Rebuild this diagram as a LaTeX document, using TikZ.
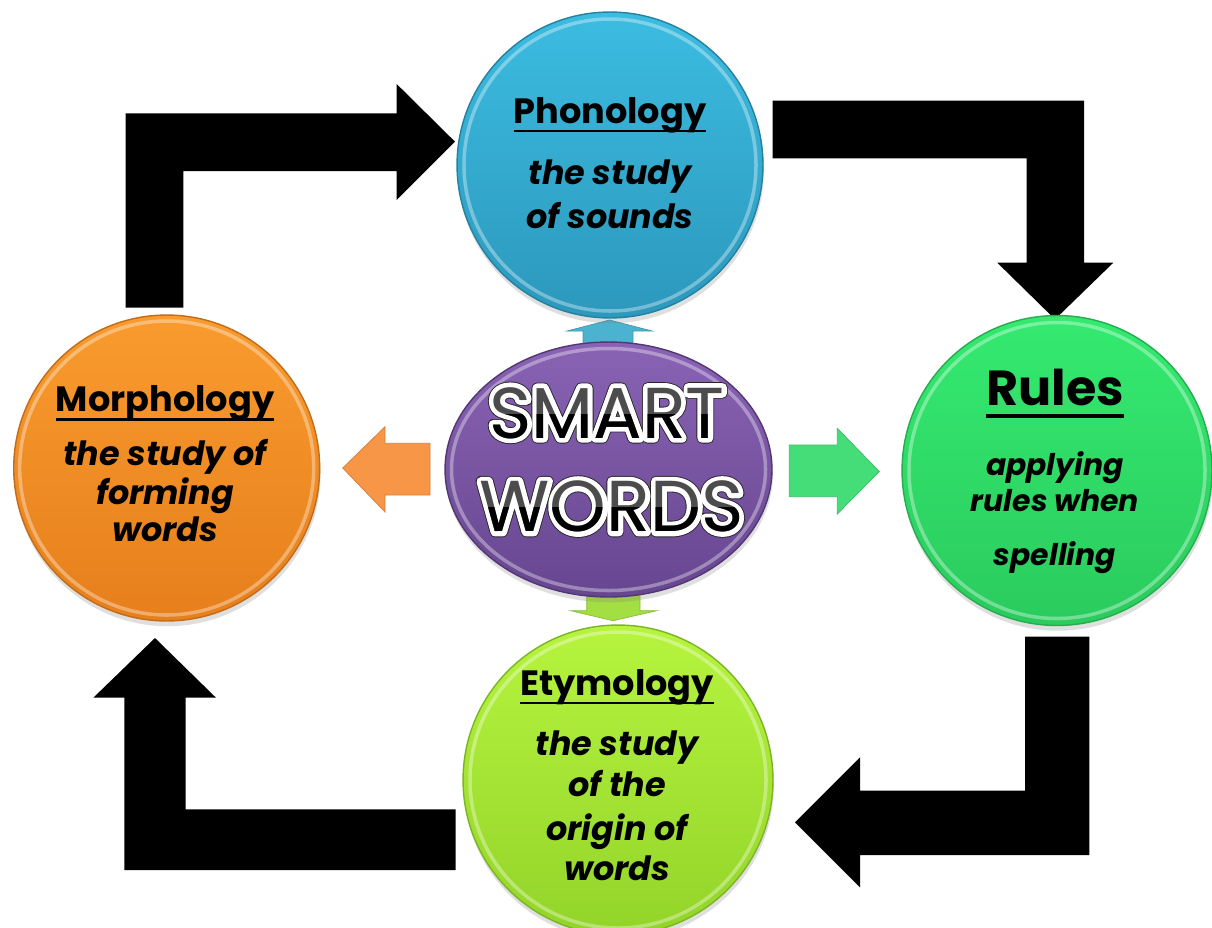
\documentclass[tikz,border=0pt]{standalone}
\usepackage{fontspec}
\setmainfont{Poppins}
\newfontfamily\smartwhite[FakeBold=13]{Poppins}
\newfontfamily\smartdark[FakeBold=15.5]{Poppins}
\newcommand{\roundjoin}{\special{pdf:code 1 j 1 J}}
\usetikzlibrary{shapes.geometric,shadows}
\definecolor{phonTop}{HTML}{3CBCE1}
\definecolor{phonBot}{HTML}{2C98BC}
\definecolor{rulesTop}{HTML}{34EA70}
\definecolor{rulesBot}{HTML}{2BCB5E}
\definecolor{etyTop}{HTML}{B6F43E}
\definecolor{etyBot}{HTML}{93D42A}
\definecolor{morTop}{HTML}{F99B2E}
\definecolor{morBot}{HTML}{E67F1C}
\definecolor{smTop}{HTML}{8A63B4}
\definecolor{smBot}{HTML}{674690}
\definecolor{arBlue}{HTML}{4BB3D0}
\definecolor{arOrange}{HTML}{F79646}
\definecolor{arGreen}{HTML}{44DD77}
\definecolor{arLime}{HTML}{A3DE42}
\newcommand{\ulin}[1]{\setbox0\hbox{#1}\rlap{\rule[-0.26em]{\wd0}{0.07em}}\box0}
\begin{document}
\begin{tikzpicture}[x=0.02cm,y=-0.02cm,
  blockarrow/.style={fill=black},
  smallarrow/.style={fill=#1, draw=#1!85!black, line width=0.4pt},
  bubble/.style={circle, inner sep=0pt, draw=#1, line width=0.8pt,
    drop shadow={opacity=0.25, shadow xshift=0.5pt, shadow yshift=-3pt}},
  rim/.style={draw=white, opacity=0.35, line width=2pt},
  head/.style={anchor=base, font=\bfseries\fontsize{20}{22}\selectfont},
  desc/.style={anchor=base, font=\bfseries\itshape\fontsize{19}{22}\selectfont},
  smart/.style={anchor=base, font=\fontsize{41}{41}\selectfont}]
\useasboundingbox (0,0) rectangle (1212,927);
\clip (0,0) rectangle (1212,927);

% big black block arrows
\fill[blockarrow] (125.7,307.7) -- (125.7,113.3) -- (396.7,113.3) -- (396.7,84) -- (455,141.7)
  -- (396.7,200) -- (396.7,171) -- (183.3,171) -- (183.3,307.7) -- cycle;
\fill[blockarrow] (772.7,100.7) -- (1084,100.7) -- (1084,262.7) -- (1113.3,262.7) -- (1055,319.3)
  -- (997.3,262.7) -- (1026.7,262.7) -- (1026.7,158.3) -- (772.7,158.3) -- cycle;
\fill[blockarrow] (1025,636.7) -- (1089.3,636.7) -- (1089.3,855) -- (860,855) -- (860,887.3)
  -- (795,822.3) -- (860,757.3) -- (860,790.7) -- (1025,790.7) -- cycle;
\fill[blockarrow] (455.7,809.3) -- (455.7,870) -- (124.3,870) -- (124.3,697.7) -- (93.3,697.7)
  -- (155,638) -- (216,697.7) -- (185.7,697.7) -- (185.7,809.3) -- cycle;

% small coloured arrows
\draw[smallarrow=arBlue] (583,345) -- (583,331) -- (567,331) -- (609.5,320) -- (652,331) -- (633,331) -- (633,345) -- cycle;
\draw[smallarrow=arLime] (586.7,594) -- (586.7,610.7) -- (570.7,610.7) -- (613,620.7) -- (656.7,610.7) -- (640,610.7) -- (640,594) -- cycle;
\draw[smallarrow=arOrange] (430,443.3) -- (385,443.3) -- (385,426.7) -- (342.7,468) -- (385,512) -- (385,495) -- (430,495) -- cycle;
\draw[smallarrow=arGreen] (789.3,445) -- (837.3,445) -- (837.3,428.3) -- (879.3,471.5) -- (837.3,514) -- (837.3,496.7) -- (789.3,496.7) -- cycle;

% circles
\node[bubble=phonBot!85!black, minimum size=6.12cm, top color=phonTop, bottom color=phonBot] (phon) at (610,165) {};
\node[bubble=rulesBot!85!black, minimum size=6.2cm, top color=rulesTop, bottom color=rulesBot] (rules) at (1057,470.5) {};
\node[bubble=etyBot!85!black, minimum size=6.2cm, top color=etyTop, bottom color=etyBot] (ety) at (618,780) {};
\node[bubble=morBot!85!black, minimum size=6.12cm, top color=morTop, bottom color=morBot] (mor) at (166.7,468) {};
\node[ellipse, inner sep=0pt, draw=smBot!80!black, line width=0.8pt, minimum width=6.54cm, minimum height=5.1cm,
  top color=smTop, bottom color=smBot,
  drop shadow={opacity=0.25, shadow xshift=0.5pt, shadow yshift=-3pt}] (smart) at (608.5,469.5) {};

% inner rims
\draw[rim] (phon.center) circle[radius=146];
\draw[rim] (rules.center) circle[radius=148];
\draw[rim] (ety.center) circle[radius=148];
\draw[rim] (mor.center) circle[radius=147];
\draw[rim] (smart.center) ellipse[x radius=157, y radius=121];

% Phonology
\node[head] (phonH) at (610,123) {\ulin{Phonology}};
\node[desc] (phonA) at (610,184) {the study};
\node[desc] (phonB) at (610,228) {of sounds};

% Morphology
\node[head] (morH) at (165,411.7) {\ulin{Morphology}};
\node[desc] (morA) at (165,465.7) {the study of};
\node[desc] (morB) at (165,504) {forming};
\node[desc] (morC) at (165,541.7) {words};

% Rules
\node[head, font=\bfseries\fontsize{28}{30}\selectfont] (rulesH) at (1055,405) {\ulin{Rules}};
\node[desc, font=\bfseries\itshape\fontsize{17}{20}\selectfont] (rulesA) at (1055,475) {applying};
\node[desc, font=\bfseries\itshape\fontsize{17}{20}\selectfont] (rulesB) at (1055,511.7) {rules when};
\node[desc, font=\bfseries\itshape\fontsize{17}{20}\selectfont] (rulesC) at (1055,565) {spelling};

% Etymology
\node[head] (etyH) at (617,695) {\ulin{Etymology}};
\node[desc] (etyA) at (617,755) {the study};
\node[desc] (etyB) at (617,796.7) {of the};
\node[desc] (etyC) at (617,840) {origin of};
\node[desc] (etyD) at (617,880) {words};

% SMART WORDS: dark rim, white outline, grey face, black lower half
\node[smart, font=\smartdark\fontsize{41}{41}\selectfont, text=black!85] (smartO1) at (607,438) {\roundjoin SMART};
\node[smart, font=\smartdark\fontsize{41}{41}\selectfont, text=black!85] (smartO2) at (611.5,531.7) {\roundjoin WORDS};
\node[smart, font=\smartwhite\fontsize{41}{41}\selectfont, text=white] (smartW1) at (607,438) {\roundjoin SMART};
\node[smart, font=\smartwhite\fontsize{41}{41}\selectfont, text=white] (smartW2) at (611.5,531.7) {\roundjoin WORDS};
\node[smart, text=black!70] (smartA) at (607,438) {SMART};
\node[smart, text=black!70] (smartB) at (611.5,531.7) {WORDS};
\begin{scope}
\clip (440,414) rectangle (780,445) (440,507) rectangle (780,545);
\node[smart] (smartC) at (607,438) {SMART};
\node[smart] (smartD) at (611.5,531.7) {WORDS};
\end{scope}
\end{tikzpicture}
\end{document}
